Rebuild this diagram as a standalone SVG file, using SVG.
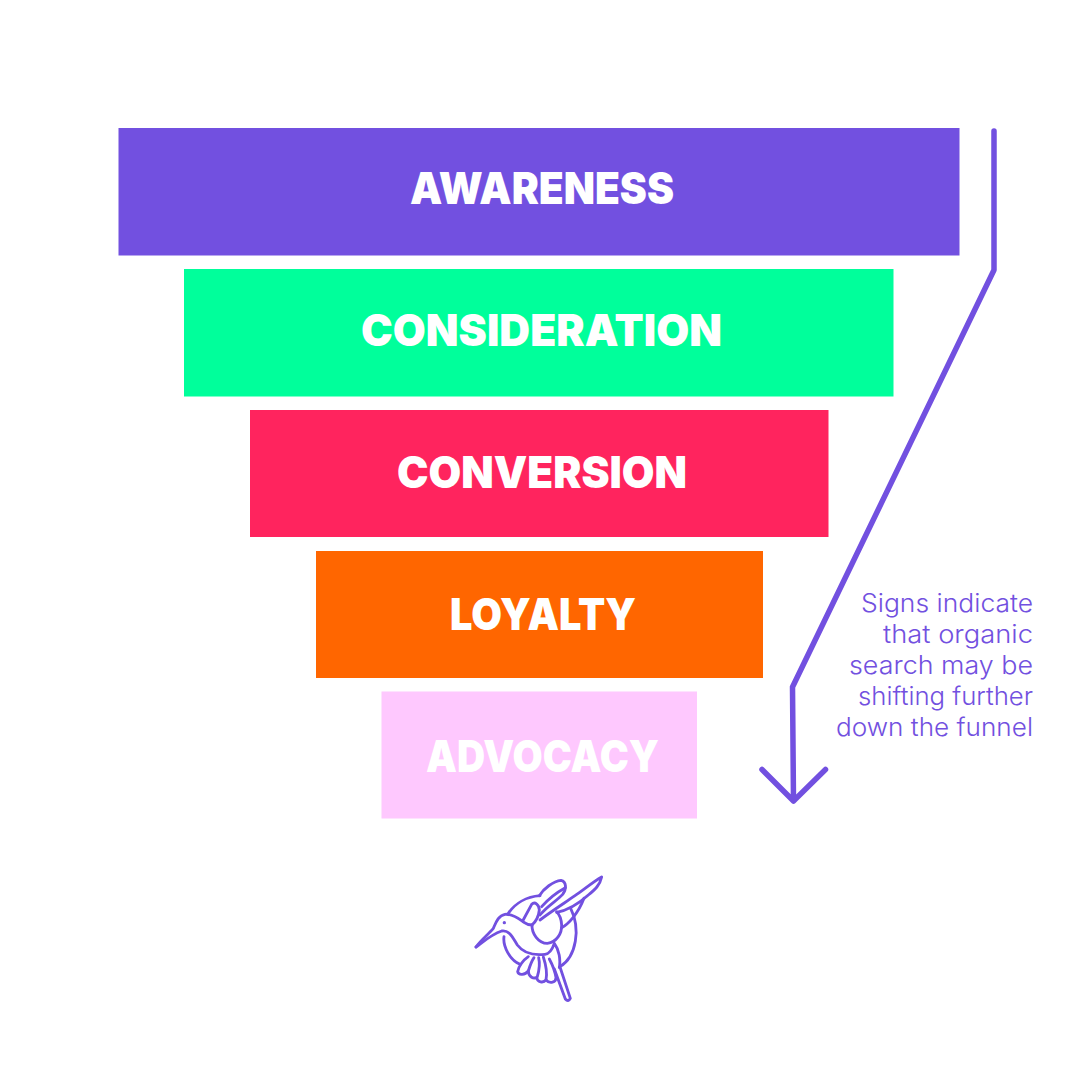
<svg xmlns="http://www.w3.org/2000/svg" width="1080" height="1080" viewBox="0 0 1080 1080">
<style>
.l{font-family:Inter,"Liberation Sans",sans-serif;font-weight:900;font-size:43.5px;fill:#fff}
.c{font-family:Inter,"Liberation Sans",sans-serif;font-weight:300;font-size:25.500px;fill:#7250e0;text-anchor:end}
.b{fill:none;stroke:#7250e0;stroke-width:8.500;stroke-linecap:round;stroke-linejoin:round}
.a{fill:none;stroke:#7250e0;stroke-width:5.500;stroke-linecap:round;stroke-linejoin:round}
</style>
<rect width="1080" height="1080" fill="#fff"/>
<g id="awareness"><rect x="118.500" y="128" width="841" height="127.500" fill="#7250e0"/><text class="l" x="410" y="203.500" textLength="264" lengthAdjust="spacingAndGlyphs">AWARENESS</text></g>
<g id="consideration"><rect x="184" y="269" width="709.500" height="127.500" fill="#00ff9b"/><text class="l" x="361" y="346" textLength="361" lengthAdjust="spacingAndGlyphs">CONSIDERATION</text></g>
<g id="conversion"><rect x="250" y="410" width="578.500" height="127" fill="#ff245e"/><text class="l" x="397" y="488" textLength="290" lengthAdjust="spacingAndGlyphs">CONVERSION</text></g>
<g id="loyalty"><rect x="316" y="551" width="447" height="127" fill="#ff6600"/><text class="l" x="450" y="630" textLength="186" lengthAdjust="spacingAndGlyphs">LOYALTY</text></g>
<g id="advocacy"><rect x="381.500" y="691.500" width="315.500" height="127" fill="#fec8fe"/><text class="l" x="426" y="772" textLength="233" lengthAdjust="spacingAndGlyphs">ADVOCACY</text></g>
<g id="connectors"><path class="a" d="M994 131V270L792.500 687L793.500 801M762 769.500L793.500 801L825.500 769.500"/></g>
<g id="note">
<text class="c" x="1033" y="612" textLength="172" lengthAdjust="spacingAndGlyphs">Signs indicate</text>
<text class="c" x="1033" y="643" textLength="150" lengthAdjust="spacingAndGlyphs">that organic</text>
<text class="c" x="1033" y="674" textLength="184" lengthAdjust="spacingAndGlyphs">search may be</text>
<text class="c" x="1033" y="705" textLength="175" lengthAdjust="spacingAndGlyphs">shifting further</text>
<text class="c" x="1033" y="736" textLength="197" lengthAdjust="spacingAndGlyphs">down the funnel</text>
</g>
<g id="hummingbird" transform="translate(460 865) scale(.3333)">
<path class="b" d="M48 246C62 226 85 208 100 190C108 172 115 152 135 148C160 146 178 162 192 172C200 178 208 180 216 180"/>
<path class="b" d="M48 246C70 230 95 208 125 198C150 194 160 222 172 240C190 264 220 272 255 268C270 266 278 250 283 235C298 255 302 285 298 308"/>
<path class="b" d="M283 312L316 402Q325 412 331 400L300 306"/>
<path class="b" d="M216 180C215 205 235 235 262 235C290 232 306 205 305 180C304 160 298 148 290 140"/>
<path class="b" d="M188 168L215 118C225 108 238 120 238 135C236 155 225 172 216 180"/>
<path class="b" d="M238 92C250 72 280 48 303 46C320 50 320 72 308 88C290 108 262 122 240 150"/>
<path class="b" d="M245 125C262 105 285 85 316 68"/>
<path class="b" d="M240 165C280 135 320 110 345 92C370 75 400 50 425 36C420 60 405 74 385 90C365 108 330 135 290 142"/>
<path class="b" d="M305 188C325 178 355 145 372 100"/>
<path class="b" d="M145 145C165 115 200 95 240 92"/>
<path class="b" d="M332 130C362 190 350 275 300 305"/>
<path class="b" d="M132 215C128 245 150 285 180 298"/>
<path class="b" d="M205 275C190 285 175 305 173 320C176 332 195 330 205 318C210 302 215 288 222 278"/>
<path class="b" d="M205 318C205 335 222 345 232 335C238 315 240 295 236 278"/>
<path class="b" d="M230 338C232 352 250 355 258 345C262 325 258 300 250 276"/>
<path class="b" d="M258 345C270 358 288 352 288 338C285 318 275 295 268 282"/>
<circle cx="133" cy="173" r="5" fill="#7250e0"/>
</g>
</svg>
